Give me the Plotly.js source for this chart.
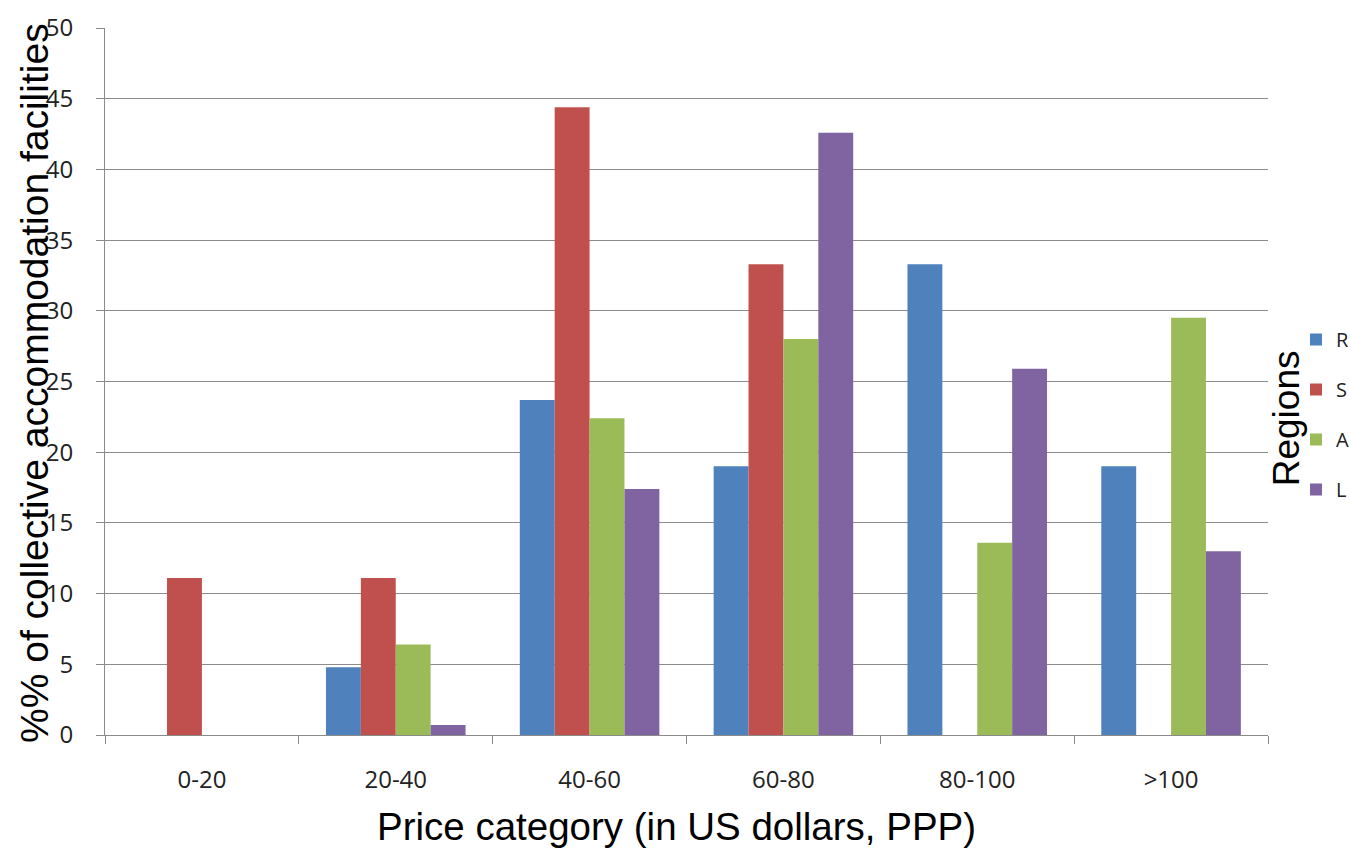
<!DOCTYPE html>
<html>
<head>
<meta charset="utf-8">
<script src="https://cdn.plot.ly/plotly-3.0.1.min.js"></script>
<style>html,body{margin:0;padding:0;background:#fff;}#chart{width:1350px;height:850px;}</style>
</head>
<body>
<div id="chart"></div>
<script>
const categories = ["0-20", "20-40", "40-60", "60-80", "80-100", ">100"];
const seriesNames = ["R", "S", "A", "L"];
const valuesR = [0, 4.8, 23.7, 19.0, 33.3, 19.0];
const valuesS = [11.1, 11.1, 44.4, 33.3, 0, 0];
const valuesA = [0, 6.4, 22.4, 28.0, 13.6, 29.5];
const valuesL = [0, 0.7, 17.4, 42.6, 25.9, 13.0];
const yTicks = [0, 5, 10, 15, 20, 25, 30, 35, 40, 45, 50];

const colors = ["#4F81BD", "#C0504D", "#9BBB59", "#8064A2"];
const allValues = [valuesR, valuesS, valuesA, valuesL];

const traces = seriesNames.map((n, i) => ({
  type: "bar",
  name: n,
  x: categories,
  y: allValues[i],
  marker: {color: colors[i]},
  legendgroup: n
}));

const tickFont = {family: "'Open Sans', Lato, sans-serif", size: 24, color: "#222"};
const titleFamily = "'Liberation Sans', Arial, sans-serif";

const layout = {
  width: 1350, height: 850,
  margin: {l: 105, r: 82, t: 28, b: 115},
  paper_bgcolor: "#fff", plot_bgcolor: "#fff",
  barmode: "group",
  bargap: 0.28,
  bargroupgap: 0,
  font: {family: "'Open Sans', Lato, sans-serif", color: "#222"},
  xaxis: {
    type: "category",
    showline: true, linecolor: "#8a8a8a", linewidth: 1,
    ticks: "outside", tickson: "boundaries", ticklen: 8, tickcolor: "#8a8a8a",
    tickfont: tickFont,
    ticklabelstandoff: 23,
    showgrid: false
  },
  yaxis: {
    range: [0, 50],
    tickvals: yTicks,
    showline: true, linecolor: "#8a8a8a", linewidth: 1,
    ticks: "outside", ticklen: 8, tickcolor: "#8a8a8a",
    showgrid: true, gridcolor: "#8c8c8c", gridwidth: 1,
    zeroline: false,
    tickfont: tickFont,
    ticklabelstandoff: 18
  },
  showlegend: true,
  legend: {
    xref: "container", yref: "container",
    x: 1296 / 1350, xanchor: "left",
    y: 1 - 320 / 850, yanchor: "top",
    traceorder: "grouped",
    tracegroupgap: 21,
    font: {family: "'Open Sans', Lato, sans-serif", size: 20, color: "#222"},
    itemwidth: 30
  },
  annotations: [{
    text: "%% of collective accommodation facilities",
    xref: "paper", yref: "paper",
    x: (34 - 105) / 1163, y: (735 - 383) / 707,
    xanchor: "center", yanchor: "middle",
    textangle: -90,
    showarrow: false,
    font: {family: titleFamily, size: 39, color: "#000"}
  }, {
    text: "Price category (in US dollars, PPP)",
    xref: "paper", yref: "paper",
    x: (676 - 105) / 1163, y: (735 - 826) / 707,
    xanchor: "center", yanchor: "middle",
    showarrow: false,
    font: {family: titleFamily, size: 38.5, color: "#000"}
  }, {
    text: "Regions",
    xref: "paper", yref: "paper",
    x: 1.0155, y: 0.448,
    xanchor: "center", yanchor: "middle",
    textangle: -90,
    showarrow: false,
    font: {family: titleFamily, size: 37, color: "#000"}
  }]
};

Plotly.newPlot("chart", traces, layout, {displayModeBar: false, staticPlot: true});
</script>
</body>
</html>
